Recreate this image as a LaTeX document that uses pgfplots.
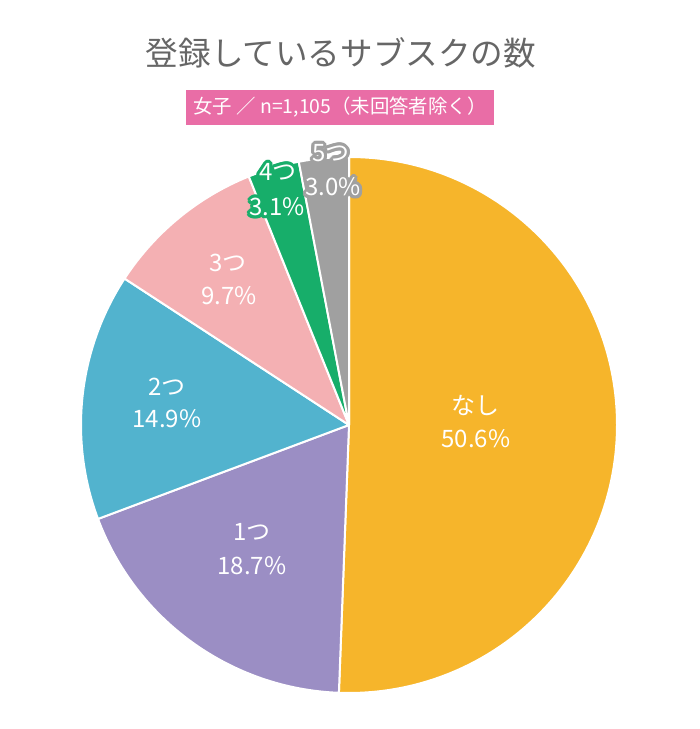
\documentclass[border=0pt]{standalone}
\usepackage{pgfplots}
\pgfplotsset{compat=1.18}
\usepackage{pgfplotstable}
\usepackage{fontspec}
\setmainfont{Noto Sans CJK JP}
\definecolor{cNone}{HTML}{F6B52B}
\definecolor{cOne}{HTML}{9B8EC4}
\definecolor{cTwo}{HTML}{52B3CE}
\definecolor{cThree}{HTML}{F4B0B3}
\definecolor{cFour}{HTML}{17AE6A}
\definecolor{cFive}{HTML}{A0A0A0}
\definecolor{titlegray}{HTML}{666666}
\definecolor{boxpink}{HTML}{E96DA6}
\pgfplotstableread[col sep=comma]{
label,value,color
なし,50.6,cNone
1つ,18.7,cOne
2つ,14.9,cTwo
3つ,9.7,cThree
4つ,3.1,cFour
5つ,3.0,cFive
}\piedata
\newcommand\lab{\fontsize{12pt}{14pt}\selectfont}
\newcommand\osh[5]{\node[text=#3,font=\lab] at ([shift={(#5:1.6pt)}]axis cs:#1,#2) {#4};}
\newcommand\olabel[4]{%
  \osh{#1}{#2}{#3}{#4}{0}\osh{#1}{#2}{#3}{#4}{22.5}\osh{#1}{#2}{#3}{#4}{45}\osh{#1}{#2}{#3}{#4}{67.5}%
  \osh{#1}{#2}{#3}{#4}{90}\osh{#1}{#2}{#3}{#4}{112.5}\osh{#1}{#2}{#3}{#4}{135}\osh{#1}{#2}{#3}{#4}{157.5}%
  \osh{#1}{#2}{#3}{#4}{180}\osh{#1}{#2}{#3}{#4}{202.5}\osh{#1}{#2}{#3}{#4}{225}\osh{#1}{#2}{#3}{#4}{247.5}%
  \osh{#1}{#2}{#3}{#4}{270}\osh{#1}{#2}{#3}{#4}{292.5}\osh{#1}{#2}{#3}{#4}{315}\osh{#1}{#2}{#3}{#4}{337.5}%
  \node[text=white,font=\lab] at (axis cs:#1,#2) {#4};
}
\begin{document}
\begin{tikzpicture}
\begin{axis}[x=0.5pt,y=0.5pt,xmin=0,xmax=700,ymin=0,ymax=729,
  hide axis,clip=false,scale only axis]
\path (axis cs:0,0) rectangle (axis cs:700,729);
\gdef\cum{0}
\pgfplotsforeachungrouped \i in {0,...,5}{%
  \pgfplotstablegetelem{\i}{value}\of\piedata \let\v\pgfplotsretval
  \pgfplotstablegetelem{\i}{color}\of\piedata \let\c\pgfplotsretval
  \pgfmathsetmacro\aS{90-3.6*\cum}%
  \pgfmathsetmacro\aE{90-3.6*(\cum+\v)}%
  \pgfmathsetmacro\cum{\cum+\v}%
  \edef\tmp{\noexpand\fill[fill=\c,draw=white,line width=1pt,line join=round]
    (axis cs:349,304) -- ++(\aS:134pt) arc[start angle=\aS,end angle=\aE,radius=134pt] -- cycle;}%
  \tmp
}
% title and subtitle
\node[text=titlegray,font=\fontsize{16.3pt}{18pt}\selectfont] at (axis cs:341,676) {登録しているサブスクの数};
\node[fill=boxpink,minimum width=154pt,minimum height=17.5pt,inner sep=0pt] at (axis cs:340,621.5) {};
\node[text=white,font=\fontsize{9.7pt}{12pt}\selectfont] at (axis cs:340,622) {女子 ／ n=1,105（未回答者除く）};
% labels
\node[text=white,font=\lab] at (axis cs:475,324) {なし};
\node[text=white,font=\lab] at (axis cs:476,290) {50.6\%};
\node[text=white,font=\lab] at (axis cs:252,197) {1つ};
\node[text=white,font=\lab] at (axis cs:252,163) {18.7\%};
\node[text=white,font=\lab] at (axis cs:167,342) {2つ};
\node[text=white,font=\lab] at (axis cs:167,310) {14.9\%};
\node[text=white,font=\lab] at (axis cs:228,466) {3つ};
\node[text=white,font=\lab] at (axis cs:229,433) {9.7\%};
\olabel{278}{557}{cFour}{4つ}
\olabel{277}{522}{cFour}{3.1\%}
\olabel{331}{576}{cFive}{5つ}
\olabel{333}{542}{cFive}{3.0\%}
\end{axis}
\end{tikzpicture}
\end{document}
